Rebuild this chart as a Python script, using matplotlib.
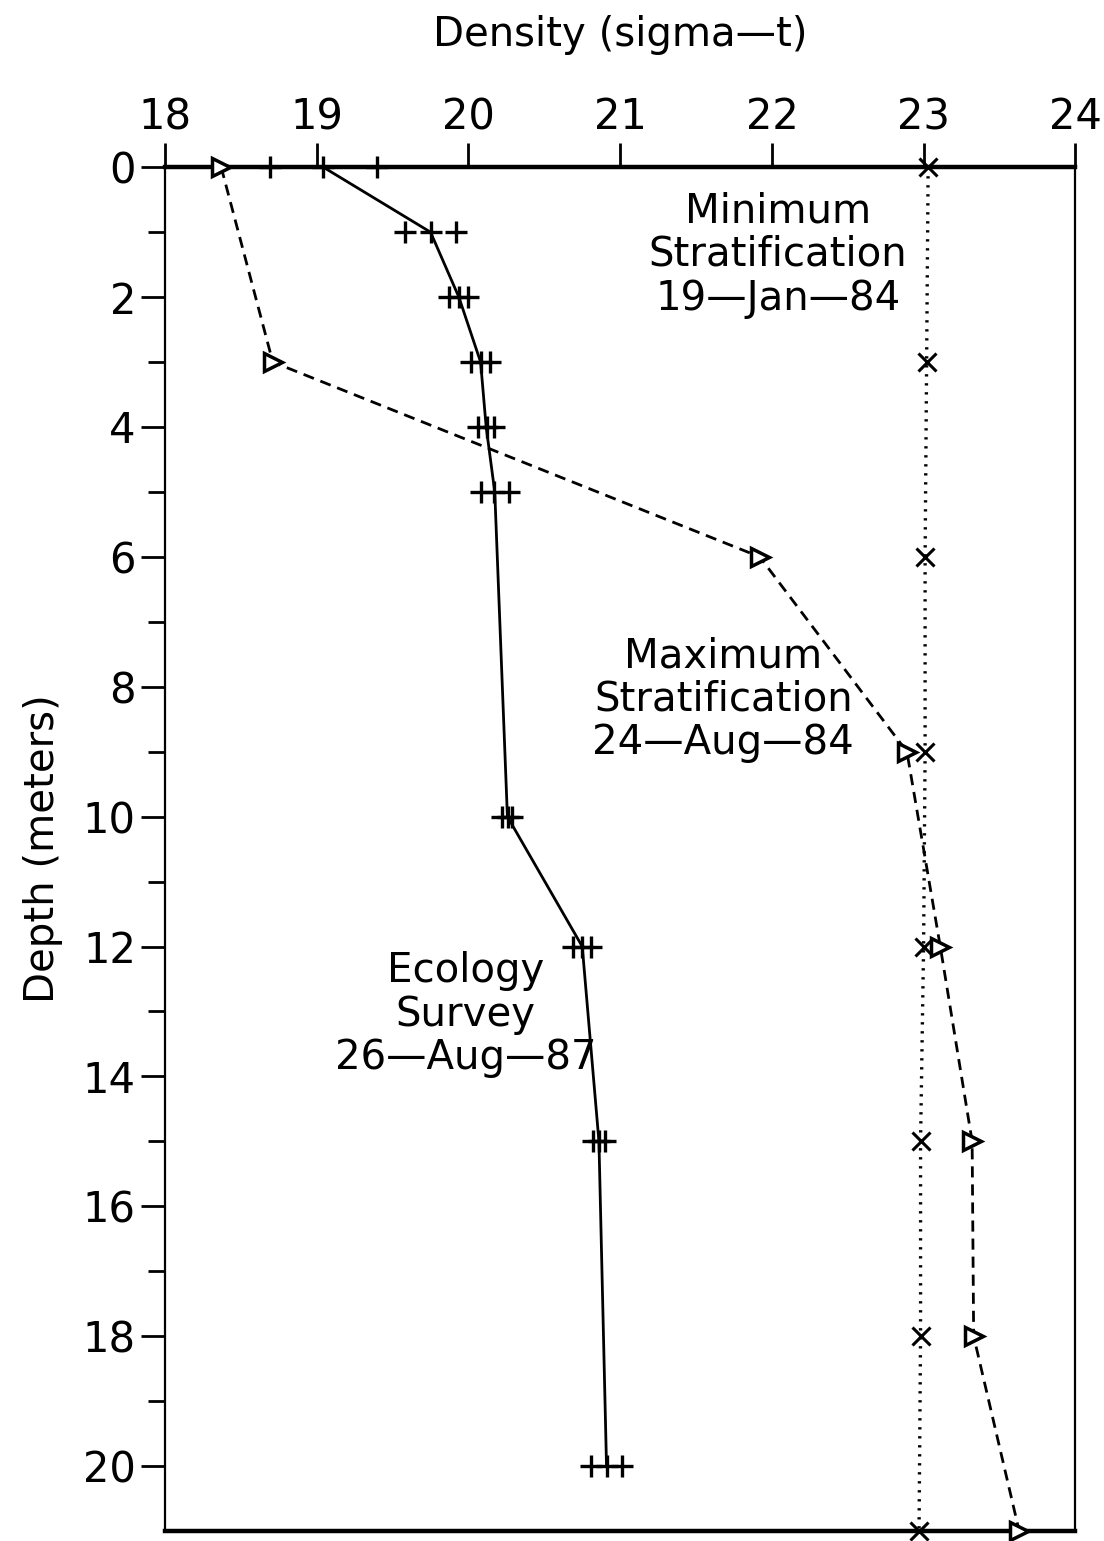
import numpy as np
import matplotlib
matplotlib.use("Agg")
import matplotlib.pyplot as plt

# ── data ──────────────────────────────────────────────────────────────────────
# Ecology survey 26-Aug-87: three replicate casts per depth
eco_depth = [0, 1, 2, 3, 4, 5, 10, 12, 15, 20]
eco_rep1 = [18.69, 19.58, 19.87, 20.02, 20.06, 20.08, 20.22, 20.69, 20.82, 20.81]
eco_rep2 = [19.04, 19.75, 19.94, 20.08, 20.12, 20.17, 20.26, 20.75, 20.86, 20.91]
eco_rep3 = [19.40, 19.92, 20.00, 20.14, 20.17, 20.27, 20.29, 20.81, 20.90, 21.01]

# 1984 profiles
strat_depth = [0, 3, 6, 9, 12, 15, 18, 21]
min_strat = [23.03, 23.02, 23.01, 23.01, 23.00, 22.98, 22.98, 22.97]   # 19-Jan-84
max_strat = [18.37, 18.71, 21.92, 22.89, 23.11, 23.32, 23.33, 23.63]   # 24-Aug-84

x_ticks = [18, 19, 20, 21, 22, 23, 24]
y_ticks = [0, 2, 4, 6, 8, 10, 12, 14, 16, 18, 20]

# ── plot ──────────────────────────────────────────────────────────────────────
plt.rcParams["font.family"] = "DejaVu Sans"
fs = 29

fig = plt.figure(figsize=(11.04, 15.41), dpi=100)
ax = fig.add_axes([0.1495, 0.0065, 0.8245, 0.885])

eco_mean = np.mean([eco_rep1, eco_rep2, eco_rep3], axis=0)
ax.plot(eco_mean, eco_depth, color="black", lw=2.0, zorder=3, clip_on=False)
for rep in (eco_rep1, eco_rep2, eco_rep3):
    ax.plot(rep, eco_depth, ls="none", marker="+", ms=16, mew=2.4,
            color="black", zorder=4, clip_on=False)

ax.plot(min_strat, strat_depth, color="black", lw=2.4, ls=(0, (0.7, 2.0)),
        marker="x", ms=13, mew=2.2, zorder=4, clip_on=False)
ax.plot(max_strat, strat_depth, color="black", lw=2.0, ls=(0, (4, 2.5)),
        marker=">", ms=13, mew=2.5, mfc="white", zorder=5, clip_on=False)

ax.text(22.04, 1.35, "Minimum\nStratification\n19—Jan—84", ha="center",
        va="center", fontsize=fs, linespacing=1.12)
ax.text(21.68, 8.2, "Maximum\nStratification\n24—Aug—84", ha="center",
        va="center", fontsize=fs, linespacing=1.12)
ax.text(19.98, 13.05, "Ecology\nSurvey\n26—Aug—87", ha="center",
        va="center", fontsize=fs, linespacing=1.12)

# axes style
ax.set_xlim(18, 24)
ax.set_ylim(21, 0)
ax.xaxis.tick_top()
ax.xaxis.set_label_position("top")
ax.set_xticks(x_ticks)
ax.set_yticks(y_ticks)
ax.set_yticks(range(1, 21, 2), minor=True)
ax.tick_params(axis="x", which="major", direction="out", length=17, width=2,
               labelsize=fs + 1, pad=4)
ax.tick_params(axis="y", which="major", direction="out", length=17, width=2,
               labelsize=fs + 1, pad=4)
ax.tick_params(axis="y", which="minor", direction="out", length=12, width=2)
ax.set_xlabel("Density (sigma—t)", fontsize=fs, labelpad=36)
ax.set_ylabel("Depth (meters)", fontsize=fs, labelpad=14)

ax.spines["top"].set_linewidth(3.2)
ax.spines["bottom"].set_linewidth(3.2)
ax.spines["left"].set_linewidth(1.6)
ax.spines["right"].set_linewidth(1.6)

fig.savefig("out.png", dpi=100)
